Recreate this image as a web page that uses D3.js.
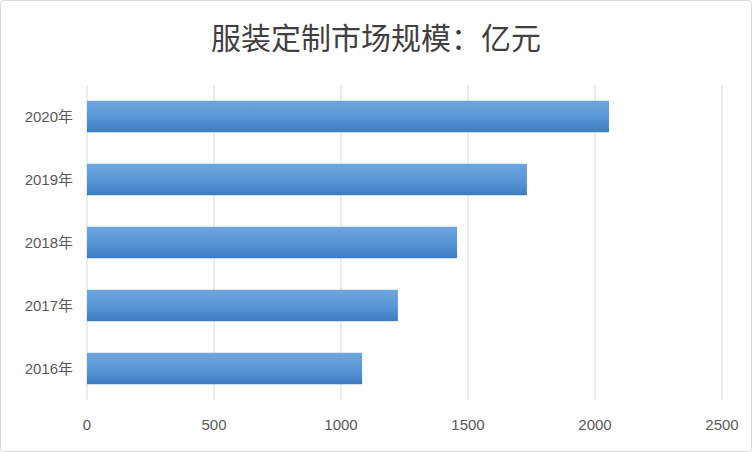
<!DOCTYPE html>
<html><head><meta charset="utf-8">
<script src="https://cdn.jsdelivr.net/npm/d3@7"></script>
<style>body{margin:0;background:#fff}</style></head>
<body><svg id="c" width="752" height="452"></svg>
<script>
const categories=["2020年","2019年","2018年","2017年","2016年"];
const values=[2055,1732,1457,1224,1083];
const ticks=[0,500,1000,1500,2000,2500];
const title="服装定制市场规模：亿元";
const svg=d3.select("#c");
const defs=svg.append("defs");
const g=defs.append("linearGradient").attr("id","gr").attr("x1",0).attr("x2",0).attr("y1",0).attr("y2",1);
g.append("stop").attr("offset","0%").attr("stop-color","#6ea6de");
g.append("stop").attr("offset","50%").attr("stop-color","#5a97d6");
g.append("stop").attr("offset","100%").attr("stop-color","#3d7cc2");
svg.append("rect").attr("x",0.5).attr("y",0.5).attr("width",751).attr("height",451).attr("fill","#fff").attr("stroke","#d9d9d9").attr("rx",3);
const x=d3.scaleLinear().domain([0,2500]).range([87,722]);
const y=d3.scaleBand().domain(categories).range([85,400]).paddingInner(0.5).paddingOuter(0.25);
svg.append("g").selectAll("line").data(ticks).join("line")
 .attr("x1",d=>x(d)).attr("x2",d=>x(d)).attr("y1",85).attr("y2",400)
 .attr("stroke","#d9d9d9").attr("stroke-width",1);
svg.append("g").selectAll("rect").data(values).join("rect")
 .attr("x",x(0)).attr("y",(d,i)=>y(categories[i])).attr("width",d=>x(d)-x(0))
 .attr("height",y.bandwidth()).attr("fill","url(#gr)");
svg.append("g").selectAll("text").data(ticks).join("text")
 .attr("x",d=>x(d)).attr("y",430).attr("text-anchor","middle")
 .attr("font-family","Liberation Sans, sans-serif").attr("font-size",15).attr("fill","#595959").text(d=>d);
svg.append("g").selectAll("text").data(categories).join("text")
 .attr("x",73).attr("y",d=>y(d)+y.bandwidth()/2+5).attr("text-anchor","end")
 .attr("font-family","Liberation Sans, Noto Sans CJK SC, sans-serif").attr("font-size",15).attr("fill","#595959").text(d=>d);
svg.append("text").attr("x",376).attr("y",49).attr("text-anchor","middle")
 .attr("font-family","Noto Sans CJK SC, sans-serif").attr("font-size",30).attr("fill","#404040").text(title);
</script></body></html>
